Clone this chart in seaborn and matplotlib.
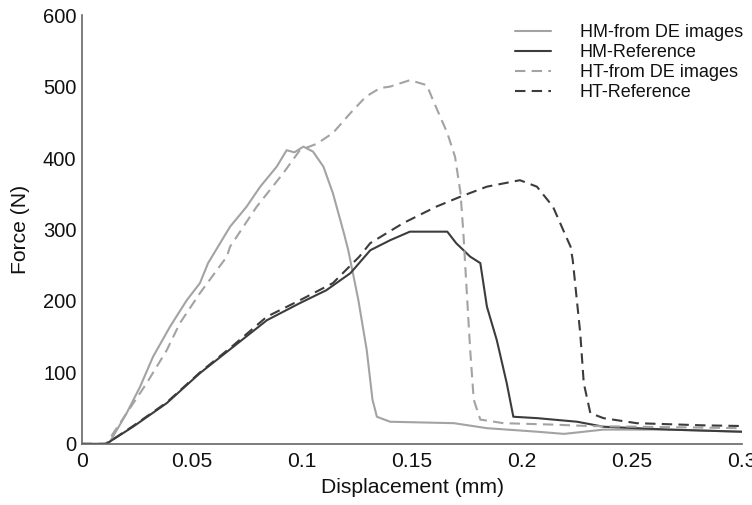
import numpy as np
import pandas as pd
import matplotlib
matplotlib.use("Agg")
import matplotlib.pyplot as plt
import seaborn as sns
from matplotlib.ticker import MultipleLocator, FuncFormatter

# values
hm_de_x = [0.0, 0.010, 0.0127, 0.0203, 0.0264, 0.0323, 0.040, 0.0476, 0.0536, 0.0573, 0.0673,
           0.0748, 0.081, 0.0885, 0.093, 0.0965, 0.1006, 0.105, 0.1097, 0.114, 0.119, 0.121,
           0.1256, 0.1294, 0.132, 0.134, 0.14, 0.169, 0.184, 0.207, 0.219, 0.237, 0.267, 0.3]
hm_de_y = [0, 0, 3, 43, 80, 122, 164, 201, 225, 253, 304,
           332, 360, 388, 411, 408, 416, 409, 388, 351, 295, 271,
           201, 131, 62, 38, 31, 29, 22, 17, 14, 20, 20, 17]

hm_ref_x = [0.0, 0.011, 0.0232, 0.0385, 0.0536, 0.0688, 0.084, 0.099, 0.111, 0.122, 0.131,
            0.14, 0.149, 0.166, 0.170, 0.1764, 0.181, 0.184, 0.1885, 0.193, 0.196, 0.207,
            0.225, 0.237, 0.267, 0.3]
hm_ref_y = [0, 0, 24, 57, 99, 136, 173, 197, 215, 239, 271,
            285, 297, 297, 281, 262, 253, 192, 145, 85, 38, 36,
            31, 24, 20, 17]

ht_de_x = [0.0, 0.011, 0.0294, 0.0385, 0.0445, 0.0536, 0.0658, 0.0673, 0.0794, 0.0915, 0.099,
           0.1067, 0.114, 0.122, 0.129, 0.1355, 0.14, 0.149, 0.1567, 0.1595, 0.166, 0.1695,
           0.172, 0.1733, 0.174, 0.1764, 0.178, 0.181, 0.1915, 0.214, 0.23, 0.3]
ht_de_y = [0, 0, 85, 131, 169, 211, 262, 276, 332, 379, 411,
           420, 435, 463, 486, 498, 500, 509, 502, 481, 435, 402,
           351, 295, 257, 131, 62, 34, 29, 27, 25, 22]

ht_ref_x = [0.0, 0.011, 0.0232, 0.0385, 0.0536, 0.0688, 0.084, 0.099, 0.114, 0.126, 0.131,
            0.146, 0.161, 0.172, 0.184, 0.199, 0.2067, 0.214, 0.2187, 0.222, 0.223, 0.2264,
            0.228, 0.231, 0.237, 0.252, 0.282, 0.3]
ht_ref_y = [0, 0, 25, 58, 100, 138, 178, 201, 225, 262, 281,
            309, 332, 346, 360, 369, 360, 332, 299, 276, 257, 155,
            85, 43, 36, 29, 26, 25]

labels = ["HM-from DE images", "HM-Reference", "HT-from DE images", "HT-Reference"]
xs = [hm_de_x, hm_ref_x, ht_de_x, ht_ref_x]
ys = [hm_de_y, hm_ref_y, ht_de_y, ht_ref_y]
colors = ["#a3a3a3", "#3c3c3c", "#a3a3a3", "#3c3c3c"]
dashes = ["-", "-", (0, (5, 3)), (0, (5, 3))]

sns.set_style("white")
plt.rcParams["font.family"] = ["Liberation Sans", "DejaVu Sans"]

fig = plt.figure(figsize=(7.52, 5.05), dpi=100)
ax = fig.add_axes([0.109, 0.121, 0.878, 0.849])

for lab, x, y, c, ls in zip(labels, xs, ys, colors, dashes):
    df = pd.DataFrame({"x": x, "y": y})
    sns.lineplot(data=df, x="x", y="y", ax=ax, color=c, linestyle=ls,
                 linewidth=1.5, label=lab, sort=False)

ax.set_xlim(0, 0.3)
ax.set_ylim(0, 600)
ax.xaxis.set_major_locator(MultipleLocator(0.05))
ax.xaxis.set_minor_locator(MultipleLocator(0.025))
ax.yaxis.set_major_locator(MultipleLocator(100))
ax.yaxis.set_minor_locator(MultipleLocator(50))
ax.xaxis.set_major_formatter(FuncFormatter(lambda v, p: f"{v:g}"))
ax.tick_params(which="both", direction="in", color="#666666", width=1,
               labelcolor="#111111")
ax.tick_params(axis="x", which="major", length=6, pad=6, labelsize=15.2)
ax.tick_params(axis="y", which="major", length=6, pad=4, labelsize=14.5)
ax.tick_params(which="minor", length=4)
for s in ["top", "right"]:
    ax.spines[s].set_visible(False)
for s in ["left", "bottom"]:
    ax.spines[s].set_color("#666666")
    ax.spines[s].set_linewidth(1.2)

ax.set_xlabel("Displacement (mm)", fontsize=15.2, labelpad=5, color="#111111")
ax.set_ylabel("Force (N)", fontsize=15.2, labelpad=9, color="#111111")

leg = ax.legend(loc="upper right", frameon=False, fontsize=13, handlelength=2.0,
                handletextpad=1.6, labelspacing=0.17, borderaxespad=0.1,
                bbox_to_anchor=(1.015, 1.0))
for t in leg.get_texts():
    t.set_color("#111111")

fig.savefig("out.png", dpi=100)
